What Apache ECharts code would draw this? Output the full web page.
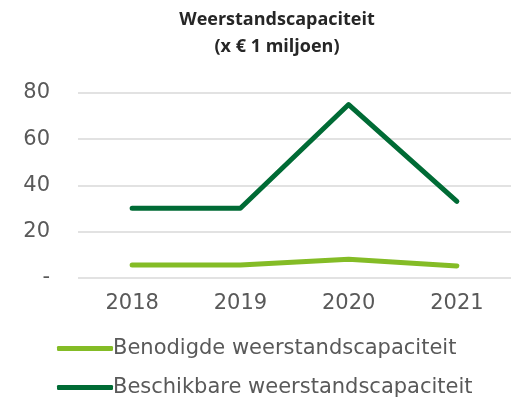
<!DOCTYPE html>
<html>
<head>
<meta charset="utf-8">
<script src="https://cdn.jsdelivr.net/npm/echarts@6/dist/echarts.min.js"></script>
<style>
  html, body { margin: 0; padding: 0; background: #fff; }
  #chart { width: 511px; height: 402px; }
</style>
</head>
<body>
<div id="chart"></div>
<script>
  const years = ['2018', '2019', '2020', '2021']
  const benodigd = [5.4, 5.4, 7.9, 5.0]
  const beschikbaar = [30, 30, 75, 33]
  const seriesNames = ['Benodigde weerstandscapaciteit', 'Beschikbare weerstandscapaciteit']

  let chart = echarts.init(document.getElementById('chart'))
  let option = {
    animation: false,
    color: ['#84BC26', '#006B35'],
    title: {
      text: 'Weerstandscapaciteit\n(x € 1 miljoen)',
      left: 272,
      textAlign: 'center',
      top: 1,
      textStyle: {
        fontFamily: 'Open Sans',
        fontWeight: 'bold',
        fontSize: 18,
        lineHeight: 27,
        color: '#262626'
      }
    },
    legend: {
      orient: 'vertical',
      left: 57,
      top: 338,
      height: 64,
      padding: 0,
      itemWidth: 56,
      itemHeight: 5,
      itemGap: 18,
      icon: 'roundRect',
      selectedMode: false,
      textStyle: { fontFamily: 'DejaVu Sans', fontSize: 21, color: '#595959', padding: [0, 0, 0, -5] },
      data: seriesNames
    },
    grid: { left: 78, right: -2, top: 93, bottom: 124.5 },
    xAxis: {
      type: 'category',
      data: years,
      boundaryGap: true,
      axisLine: { show: false },
      axisTick: { show: false },
      axisLabel: { fontFamily: 'DejaVu Sans', fontSize: 21, color: '#595959', margin: 16 }
    },
    yAxis: {
      type: 'value',
      min: 0,
      max: 80,
      interval: 20,
      axisLine: { show: false },
      axisTick: { show: false },
      axisLabel: {
        fontFamily: 'DejaVu Sans', fontSize: 21, color: '#595959', margin: 28,
        formatter: v => v === 0 ? '-' : String(v)
      },
      splitLine: { lineStyle: { color: '#D9D9D9', width: 1.5 } }
    },
    series: [
      {
        name: seriesNames[0],
        type: 'line',
        data: benodigd,
        symbol: 'none',
        lineStyle: { width: 5, cap: 'round', join: 'round' }
      },
      {
        name: seriesNames[1],
        type: 'line',
        data: beschikbaar,
        symbol: 'none',
        lineStyle: { width: 5, cap: 'round', join: 'round' }
      }
    ]
  }
  chart.setOption(option)
</script>
</body>
</html>
